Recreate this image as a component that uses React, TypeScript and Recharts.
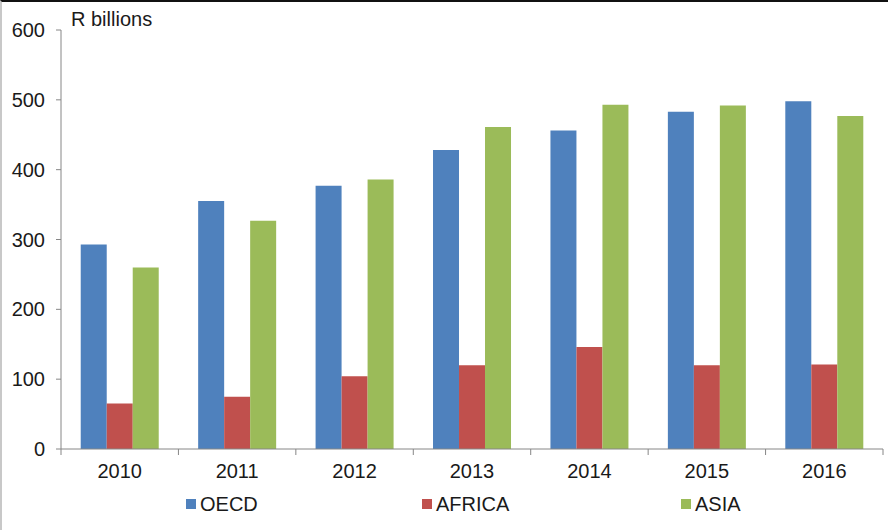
import React from "react";
import { BarChart, Bar, XAxis, YAxis, Legend } from "recharts";

const years = ["2010", "2011", "2012", "2013", "2014", "2015", "2016"];
const oecd = [293, 355, 377, 428, 456, 483, 498];
const africa = [65, 75, 104, 120, 146, 120, 121];
const asia = [260, 327, 386, 461, 493, 492, 477];
const yTicks = [0, 100, 200, 300, 400, 500, 600];

const series = [
  { key: "oecd", name: "OECD", color: "#4F81BD" },
  { key: "africa", name: "AFRICA", color: "#C0504D" },
  { key: "asia", name: "ASIA", color: "#9BBB59" },
];

const data = years.map((year, i) => ({
  year,
  oecd: oecd[i],
  africa: africa[i],
  asia: asia[i],
}));

const FONT = "'Liberation Sans', Arial, sans-serif";
const AXIS = "#868686";
const TEXT = "#1a1a1a";
const BAND = 822 / 7;

function XTick(props: any) {
  const { x, y, payload, index } = props;
  const last = index === years.length - 1;
  return (
    <g>
      <line x1={x - BAND / 2} x2={x - BAND / 2} y1={y - 8} y2={y - 2} stroke={AXIS} />
      {last && <line x1={x + BAND / 2} x2={x + BAND / 2} y1={y - 8} y2={y - 2} stroke={AXIS} />}
      <text x={x} y={y + 21} textAnchor="middle" fontSize={20} fill={TEXT} fontFamily={FONT}>
        {payload.value}
      </text>
    </g>
  );
}

function LegendBox() {
  const lefts = [186, 422, 681];
  return (
    <div style={{ position: "relative", width: 888, height: 24, fontFamily: FONT, fontSize: 20, color: TEXT }}>
      {series.map((s, i) => (
        <div
          key={s.key}
          style={{ position: "absolute", left: lefts[i], top: 0, display: "flex", alignItems: "center", height: 24 }}
        >
          <span style={{ width: 10, height: 10, background: s.color, marginRight: 4, display: "inline-block" }} />
          <span style={{ lineHeight: "24px" }}>{s.name}</span>
        </div>
      ))}
    </div>
  );
}

export default function App() {
  return (
    <div
      style={{
        position: "absolute",
        left: 0,
        top: 0,
        width: 888,
        height: 530,
        background: "#fff",
        borderTop: "2px solid #111",
        borderLeft: "2px solid #c8c8c8",
        boxSizing: "border-box",
      }}
    >
      <div style={{ position: "absolute", left: -2, top: -2 }}>
        <BarChart
          width={888}
          height={530}
          data={data}
          margin={{ top: 30, right: 5, left: 0, bottom: 27 }}
          barCategoryGap="16.8%"
          barGap={0}
        >
          <XAxis
            dataKey="year"
            stroke={AXIS}
            tickLine={false}
            tick={<XTick />}
            height={30}
            interval={0}
          />
          <YAxis
            domain={[0, 600]}
            ticks={yTicks}
            width={61}
            stroke={AXIS}
            tickSize={5}
            tick={{ fontSize: 20, fill: TEXT, fontFamily: FONT }}
            tickMargin={11}
            interval={0}
            label={({ viewBox }: any) => (
              <text
                x={viewBox.x + viewBox.width + 10}
                y={viewBox.y - 4.5}
                fontSize={20}
                fill={TEXT}
                fontFamily={FONT}
              >
                R billions
              </text>
            )}
          />
          <Legend
            verticalAlign="bottom"
            height={24}
            wrapperStyle={{ bottom: 14 }}
            content={() => <LegendBox />}
          />
          {series.map((s) => (
            <Bar key={s.key} dataKey={s.key} name={s.name} fill={s.color} isAnimationActive={false} />
          ))}
        </BarChart>
      </div>
    </div>
  );
}
